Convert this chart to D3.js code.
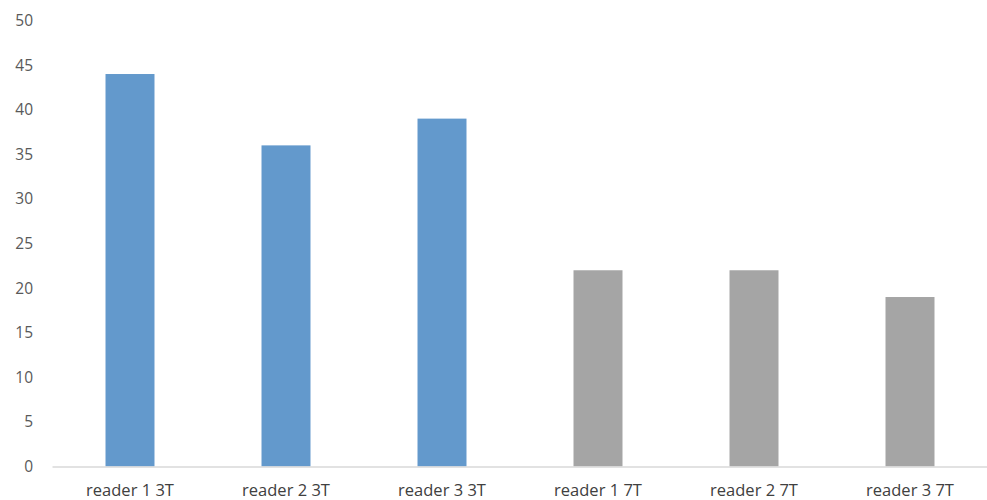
<!DOCTYPE html>
<html>
<head>
<meta charset="utf-8">
<script src="https://cdn.jsdelivr.net/npm/d3@7"></script>
<style>
  html, body { margin: 0; padding: 0; background: #fff; }
  svg { display: block; }
</style>
</head>
<body>
<svg id="chart" width="987" height="500"></svg>
<script>
const categories = ["reader 1 3T", "reader 2 3T", "reader 3 3T", "reader 1 7T", "reader 2 7T", "reader 3 7T"];
const values = [44, 36, 39, 22, 22, 19];
const groups = ["3T", "3T", "3T", "7T", "7T", "7T"];
const yTicks = [0, 5, 10, 15, 20, 25, 30, 35, 40, 45, 50];

const colorMap = { "3T": "#6399CC", "7T": "#A5A5A5" };
const svg = d3.select("#chart");
const font = "'Open Sans', 'Liberation Sans', sans-serif";

const x = d3.scaleBand().domain(categories).range([52, 988]).paddingInner(0.686).paddingOuter(0.343);
const y = d3.scaleLinear().domain([0, 50]).range([466.5, 20.5]);

// y axis labels
const yAxis = d3.axisLeft(y).tickValues(yTicks).tickSize(0).tickPadding(0);
const gy = svg.append("g").attr("transform", "translate(33,0)").call(yAxis);
gy.select(".domain").remove();
gy.selectAll("text").attr("font-family", font).attr("font-size", 15.5).attr("fill", "#595959");

// bars
svg.append("g").selectAll("rect").data(categories).join("rect")
  .attr("x", d => x(d))
  .attr("y", (d, i) => y(values[i]))
  .attr("width", x.bandwidth())
  .attr("height", (d, i) => y(0) - y(values[i]))
  .attr("fill", (d, i) => colorMap[groups[i]]);

// x axis
const xAxis = d3.axisBottom(x).tickSize(0).tickPadding(18);
const gx = svg.append("g").attr("transform", `translate(0,${y(0)})`).call(xAxis);
gx.select(".domain").attr("stroke", "#D9D9D9").attr("stroke-width", 1.3);
gx.selectAll("text").attr("font-family", font).attr("font-size", 16.5).attr("fill", "#404040");
</script>
</body>
</html>
